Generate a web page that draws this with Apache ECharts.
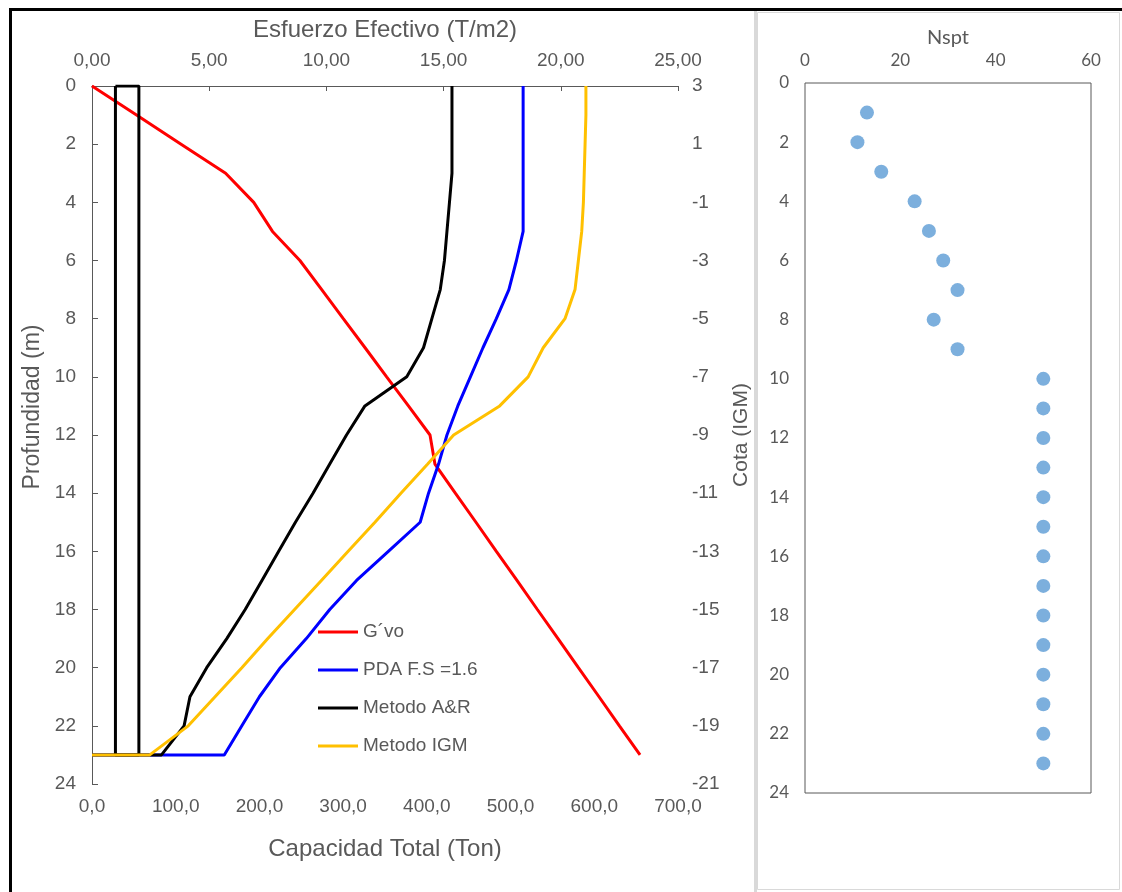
<!DOCTYPE html>
<html>
<head>
<meta charset="utf-8">
<script src="https://cdn.jsdelivr.net/npm/echarts@6/dist/echarts.min.js"></script>
<style>
  html, body { margin: 0; padding: 0; background: #fff; }
  #chart { width: 1122px; height: 892px; }
</style>
</head>
<body>
<div id="chart"></div>
<script>
// profundidad (m), una lectura por metro
var profundidad = [0, 1, 2, 3, 4, 5, 6, 7, 8, 9, 10, 11, 12, 13, 14, 15, 16, 17, 18, 19, 20, 21, 22, 23];
// las curvas de capacidad cierran en 0 a los 23 m
var profundidadCap = profundidad.concat([23]);

// G´vo (T/m2) - eje superior
var gvo = [0, 1.9, 3.8, 5.7, 6.9, 7.7, 8.87, 9.8, 10.72, 11.65, 12.57, 13.5, 14.42, 14.63, 15.5, 16.38, 17.25, 18.13, 19.0, 19.88, 20.75, 21.63, 22.5, 23.38];
// capacidades (Ton) - eje inferior
var pda = [515, 515, 515, 515, 515, 515, 507, 498, 483, 467, 452, 437, 424, 414, 402, 392, 354, 316, 284, 256, 225, 200, 179, 158, 0];
var metodoAR = [430, 430, 430, 430, 427, 424, 421, 416, 406, 396, 376, 326, 304, 284, 264, 243, 223, 203, 183, 161, 137, 117, 110, 83, 0];
var metodoIGM = [590, 590, 589, 588, 587, 585, 581, 577, 565, 539, 521, 487, 432, 401, 369, 338, 306, 274, 242, 210, 179, 147, 115, 69, 0];

// pilote (T/m2 en eje superior)
var piloteX = [1, 1, 2, 2, 1];
var piloteY = [0, 23, 23, 0, 0];

// Nspt
var profundidadN = [1, 2, 3, 4, 5, 6, 7, 8, 9, 10, 11, 12, 13, 14, 15, 16, 17, 18, 19, 20, 21, 22, 23];
var nspt = [13, 11, 16, 23, 26, 29, 32, 27, 32, 50, 50, 50, 50, 50, 50, 50, 50, 50, 50, 50, 50, 50, 50];

function pares (xs, ys) {
  return xs.map(function (v, i) { return [v, ys[i]]; });
}

var gris = '#595959';
var fuente = 'Liberation Sans';

var chart = echarts.init(document.getElementById('chart'));
chart.setOption({
  animation: false,
  textStyle: { fontFamily: fuente },
  graphic: [
    { type: 'rect', shape: { x: 9, y: 8, width: 1113, height: 3 }, style: { fill: '#000' } },
    { type: 'rect', shape: { x: 9, y: 8, width: 3, height: 884 }, style: { fill: '#000' } },
    { type: 'rect', shape: { x: 754, y: 11, width: 3, height: 881 }, style: { fill: '#d9d9d9' } },
    { type: 'rect', shape: { x: 757.5, y: 12.5, width: 362, height: 877 }, style: { fill: 'none', stroke: '#d9d9d9', lineWidth: 1 } }
  ],
  grid: [
    { left: 92, top: 86, width: 586, height: 698 },
    { left: 805, top: 83, width: 286, height: 710, show: true, borderColor: gris, borderWidth: 1 }
  ],
  legend: {
    data: ['G´vo', 'PDA F.S =1.6', 'Metodo A&R', 'Metodo IGM'],
    orient: 'vertical',
    left: 313,
    top: 617,
    itemWidth: 40,
    itemHeight: 3,
    itemGap: 18,
    icon: 'rect',
    textStyle: { color: gris, fontSize: 19, fontFamily: fuente, lineHeight: 20 }
  },
  xAxis: [
    {
      gridIndex: 0, type: 'value', position: 'bottom', min: 0, max: 700, interval: 100,
      name: 'Capacidad Total (Ton)', nameLocation: 'middle', nameGap: 53,
      nameTextStyle: { color: gris, fontSize: 24, fontFamily: fuente },
      axisLine: { show: true, lineStyle: { color: gris } },
      axisTick: { show: false },
      axisLabel: { color: gris, fontSize: 19, margin: 13, formatter: function (v) { return v.toFixed(1).replace('.', ','); } },
      splitLine: { show: false }
    },
    {
      gridIndex: 0, type: 'value', position: 'top', min: 0, max: 25, interval: 5,
      name: 'Esfuerzo Efectivo (T/m2)', nameLocation: 'middle', nameGap: 44,
      nameTextStyle: { color: gris, fontSize: 24, fontFamily: fuente },
      axisLine: { show: true, lineStyle: { color: gris } },
      axisTick: { show: true, inside: true, length: 5, lineStyle: { color: gris } },
      axisLabel: { color: gris, fontSize: 19, margin: 16, formatter: function (v) { return v.toFixed(2).replace('.', ','); } },
      splitLine: { show: false }
    },
    {
      gridIndex: 1, type: 'value', position: 'top', min: 0, max: 60, interval: 20,
      name: 'Nspt', nameLocation: 'middle', nameGap: 31,
      nameTextStyle: { color: gris, fontSize: 20, fontFamily: 'Lato' },
      axisLine: { show: false },
      axisTick: { show: false },
      axisLabel: { color: gris, fontSize: 17, margin: 14, fontFamily: 'Lato' },
      splitLine: { show: false }
    }
  ],
  yAxis: [
    {
      gridIndex: 0, type: 'value', position: 'left', inverse: true, min: 0, max: 24, interval: 2,
      name: 'Profundidad (m)', nameLocation: 'middle', nameGap: 40, nameRotate: 90,
      nameTextStyle: { color: gris, fontSize: 23, fontFamily: fuente, padding: [0, 0, 0, 56] },
      axisLine: { show: true, lineStyle: { color: gris } },
      axisTick: { show: false },
      axisLabel: { color: gris, fontSize: 19, margin: 16 },
      splitLine: { show: false }
    },
    {
      // cota = 3 - profundidad
      gridIndex: 0, type: 'value', position: 'right', inverse: true, min: 0, max: 24, interval: 2,
      name: 'Cota (IGM)', nameLocation: 'middle', nameGap: 51, nameRotate: 90,
      nameTextStyle: { color: gris, fontSize: 21, fontFamily: fuente },
      axisLine: { show: true, lineStyle: { color: gris } },
      axisTick: { show: true, length: 6, lineStyle: { color: gris } },
      axisLabel: { color: gris, fontSize: 19, margin: 14, formatter: function (v) { return String(3 - v); } },
      splitLine: { show: false }
    },
    {
      gridIndex: 1, type: 'value', inverse: true, min: 0, max: 24, interval: 2,
      axisLine: { show: false },
      axisTick: { show: false },
      axisLabel: { color: gris, fontSize: 17, margin: 16, fontFamily: 'Lato' },
      splitLine: { show: false }
    }
  ],
  series: [
    {
      name: 'G´vo', type: 'line', xAxisIndex: 1, yAxisIndex: 0,
      data: pares(gvo, profundidad), showSymbol: false, symbol: 'none',
      lineStyle: { color: '#ff0000', width: 3 }, itemStyle: { color: '#ff0000' }
    },
    {
      name: 'PDA F.S =1.6', type: 'line', xAxisIndex: 0, yAxisIndex: 0,
      data: pares(pda, profundidadCap), showSymbol: false, symbol: 'none',
      lineStyle: { color: '#0000ff', width: 3 }, itemStyle: { color: '#0000ff' }
    },
    {
      name: 'pilote', type: 'line', xAxisIndex: 1, yAxisIndex: 0,
      data: pares(piloteX, piloteY), showSymbol: false, symbol: 'none',
      lineStyle: { color: '#000', width: 3 }, itemStyle: { color: '#000' }
    },
    {
      name: 'Metodo A&R', type: 'line', xAxisIndex: 0, yAxisIndex: 0,
      data: pares(metodoAR, profundidadCap), showSymbol: false, symbol: 'none',
      lineStyle: { color: '#000', width: 3 }, itemStyle: { color: '#000' }
    },
    {
      name: 'Metodo IGM', type: 'line', xAxisIndex: 0, yAxisIndex: 0,
      data: pares(metodoIGM, profundidadCap), showSymbol: false, symbol: 'none',
      lineStyle: { color: '#ffc000', width: 3 }, itemStyle: { color: '#ffc000' }
    },
    {
      name: 'Nspt', type: 'scatter', xAxisIndex: 2, yAxisIndex: 2,
      data: pares(nspt, profundidadN), symbolSize: 14,
      itemStyle: { color: '#5b9bd5' }
    }
  ]
});
</script>
</body>
</html>
